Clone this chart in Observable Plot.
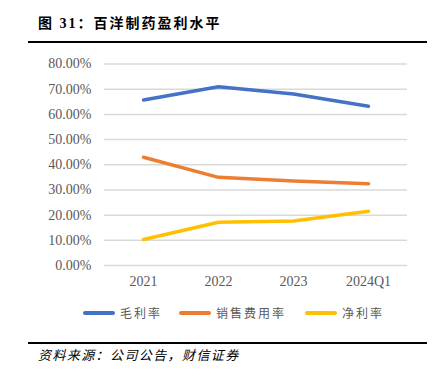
<!DOCTYPE html>
<html>
<head>
<meta charset="utf-8">
<script src="https://cdn.jsdelivr.net/npm/d3@7"></script>
<script src="https://cdn.jsdelivr.net/npm/@observablehq/plot@0.6"></script>
<style>
  body { margin: 0; background: #fff; }
  #wrap { position: relative; width: 439px; height: 377px; background: #fff; overflow: hidden; }
  #chart { position: absolute; left: 0; top: 0; }
  #title { position: absolute; left: 38px; top: 14px; font-family: "Liberation Serif", "Noto Sans CJK SC", serif; font-weight: bold; font-size: 14px; letter-spacing: 2px; color: #000; line-height: 20px; white-space: nowrap; z-index: 2; }
  .rule { position: absolute; left: 28px; width: 399px; height: 1.5px; background: #000; z-index: 2; }
  #legend { position: absolute; top: 304px; left: 0; width: 439px; height: 18px; z-index: 2; }
  .item { position: absolute; top: 0; display: flex; align-items: center; height: 18px; }
  .swatch { width: 32px; height: 3.5px; border-radius: 2px; margin-right: 5px; }
  .lab { font-family: "Noto Sans CJK SC", sans-serif; font-size: 12px; letter-spacing: 2px; color: #595959; line-height: 18px; white-space: nowrap; }
  #source { position: absolute; left: 38px; top: 346px; font-family: "Noto Sans CJK SC", sans-serif; font-style: italic; font-size: 13px; letter-spacing: 1.4px; color: #000; line-height: 18px; white-space: nowrap; z-index: 2; }
</style>
</head>
<body>
<div id="wrap">
  <div id="chart"></div>
  <div id="title"></div>
  <div class="rule" style="top:41px"></div>
  <div id="legend"></div>
  <div class="rule" style="top:342px"></div>
  <div id="source"></div>
</div>
<script>
const titleText = "图 31：百洋制药盈利水平";
const sourceText = "资料来源：公司公告，财信证券";
const years = ["2021", "2022", "2023", "2024Q1"];
const grossMargin = [65.7, 71.0, 68.1, 63.2];
const salesExpenseRatio = [43.0, 35.0, 33.5, 32.5];
const netMargin = [10.3, 17.2, 17.7, 21.5];
const seriesNames = ["毛利率", "销售费用率", "净利率"];
const seriesColors = ["#4472C4", "#ED7D31", "#FFC000"];
const yTicks = [0, 10, 20, 30, 40, 50, 60, 70, 80];
const legendLeft = [83, 179, 305];

const seriesValues = [grossMargin, salesExpenseRatio, netMargin];
const data = [];
seriesNames.forEach((name, i) => {
  years.forEach((yr, j) => data.push({ series: name, year: yr, value: seriesValues[i][j] }));
});

const chart = Plot.plot({
  width: 439,
  height: 290,
  marginTop: 63.5,
  marginBottom: 25,
  marginLeft: 104,
  marginRight: 32,
  style: { fontFamily: "Liberation Serif, serif", fontSize: "14px", color: "#595959", background: "transparent" },
  x: { type: "point", domain: years, padding: 0.5 },
  y: { domain: [0, 80] },
  color: { domain: seriesNames, range: seriesColors },
  marks: [
    Plot.gridY(yTicks, { stroke: "#d9d9d9", strokeOpacity: 1, strokeWidth: 1.5 }),
    Plot.axisY({ ticks: yTicks, tickSize: 0, tickPadding: 13, tickFormat: d => d.toFixed(2) + "%", label: null, fontSize: 14 }),
    Plot.axisX({ tickSize: 0, tickPadding: 11, label: null, fontSize: 14 }),
    Plot.line(data, { x: "year", y: "value", z: "series", stroke: "series", strokeWidth: 3.5, strokeLinecap: "round", strokeLinejoin: "round" })
  ]
});
document.getElementById("chart").appendChild(chart);
document.getElementById("title").textContent = titleText;
document.getElementById("source").textContent = sourceText;

const legend = document.getElementById("legend");
seriesNames.forEach((name, i) => {
  const item = document.createElement("div");
  item.className = "item";
  item.style.left = legendLeft[i] + "px";
  const sw = document.createElement("div");
  sw.className = "swatch";
  sw.style.background = seriesColors[i];
  const lab = document.createElement("span");
  lab.className = "lab";
  lab.textContent = name;
  item.appendChild(sw);
  item.appendChild(lab);
  legend.appendChild(item);
});
</script>
</body>
</html>
